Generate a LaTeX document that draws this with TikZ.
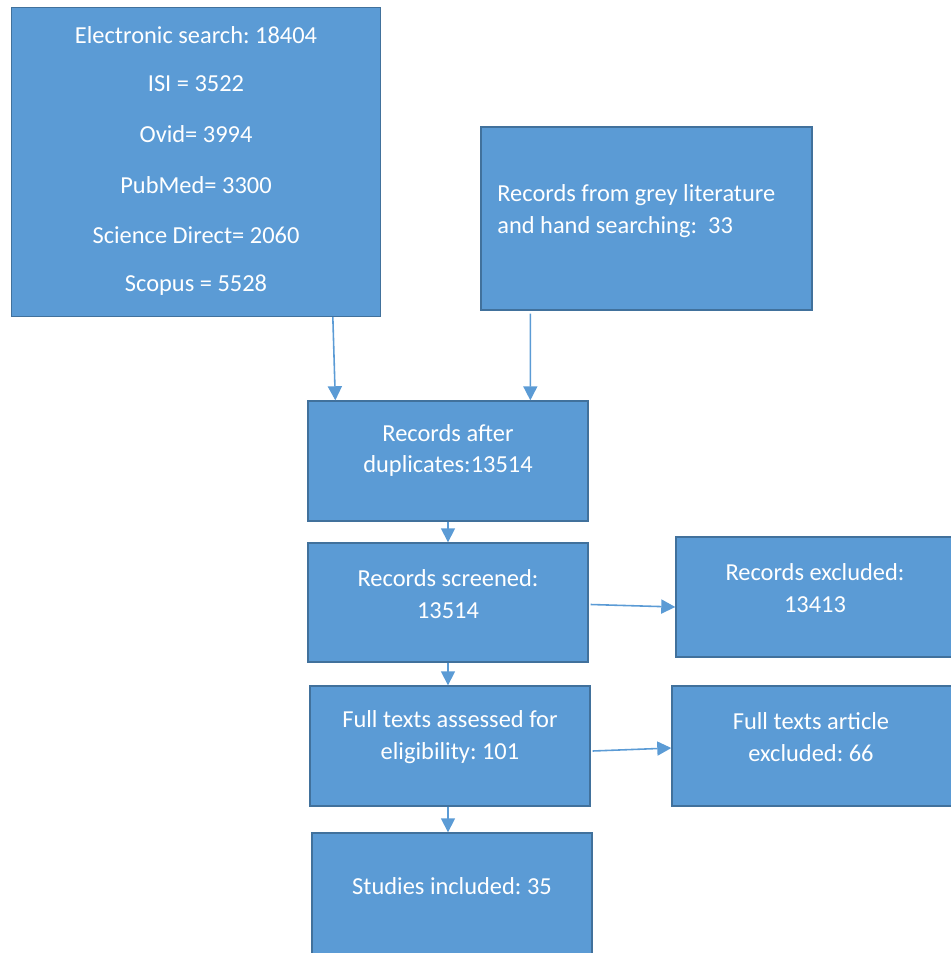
\documentclass[tikz,border=0pt]{standalone}
\usepackage{fontspec}
\setmainfont{Carlito}
\usepackage{tikz}
\usetikzlibrary{arrows.meta}
\usetikzlibrary{calc}
\definecolor{boxblue}{HTML}{5B9BD5}
\definecolor{boxedge}{HTML}{41719C}
\frenchspacing

\begin{document}
\begin{tikzpicture}[x=0.02cm,y=-0.02cm,
    box/.style={draw=boxedge,fill=boxblue,line width=0.8pt,rectangle,inner sep=0pt},
    txt/.style={text=white,align=center,font=\fontsize{13.9}{18}\selectfont,inner sep=0pt},
    link/.style={draw=boxblue,line width=0.9pt,-{Triangle[length=8pt,width=8pt]}}]
                    \useasboundingbox (0,0) rectangle (950,953);
                    \draw (196,162) node[box,minimum width=7.38cm,minimum height=6.18cm,name=esearch] {};
                    \draw (646.5,218.5) node[box,minimum width=6.62cm,minimum height=3.66cm,name=grey] {};
                    \draw (448,461) node[box,minimum width=5.6cm,minimum height=2.4cm,name=dup] {};
                    \draw (448,602.5) node[box,minimum width=5.6cm,minimum height=2.38cm,name=screen] {};
                    \draw (823,597) node[box,minimum width=5.88cm,minimum height=2.4cm,name=rexcl] {};
                    \draw (820,746) node[box,minimum width=5.92cm,minimum height=2.4cm,name=fexcl] {};
                    \draw (450,746) node[box,minimum width=5.6cm,minimum height=2.4cm,name=assess] {};
                    \draw (452,898) node[box,minimum width=5.6cm,minimum height=2.6cm,name=incl] {};
                    \draw (196,35) node[txt,name=esearch-1] {Electronic search: 18404};
                    \draw (196,84) node[txt,name=esearch-2] {ISI = 3522};
                    \draw (196,134) node[txt,name=esearch-3] {Ovid= 3994};
                    \draw (196,185) node[txt,name=esearch-4] {PubMed= 3300};
                    \draw (196,235) node[txt,name=esearch-5] {Science Direct= 2060};
                    \draw (196,285) node[txt,name=esearch-6] {Scopus = 5528};
                    \draw (497,211) node[txt,anchor=west,align=left,name=grey-t] {Records from grey literature\\and hand searching:~~33};
                    \draw (448,450.5) node[txt,name=dup-t] {Records after\\duplicates:13514};
                    \draw (448,594) node[txt,name=screen-t] {Records screened:\\13514};
                    \draw (815,588) node[txt,name=rexcl-t] {Records excluded:\\13413};
                    \draw (450,737) node[txt,name=assess-t] {Full texts assessed for\\eligibility: 101};
                    \draw (811,737) node[txt,name=fexcl-t] {Full texts article\\excluded: 66};
                    \draw (452,886) node[txt,name=incl-t] {Studies included: 35};
                    \coordinate (a) at ($ (esearch.south west) + (322,0) $);
                    \coordinate (b) at ($ (dup.north west) + (28,0) $);
                    \draw[link] (a) -- (b);
                    \draw[link] ($ (grey.south west) + (50,3) $) -- ($ (dup.north west) + (223,0) $);
                    \draw[link] (dup.south) -- (screen.north);
                    \draw[link] ($ (screen.east) + (2,2) $) -- ($ (rexcl.west) + (0,10) $);
                    \draw[link] (screen.south) -- ($ (assess.north) + (-2,0) $);
                    \draw[link] ($ (assess.east) + (2,5) $) -- ($ (fexcl.west) + (0,2) $);
                    \draw[link] ($ (assess.south) + (-2,0) $) -- ($ (incl.north) + (-4,0) $);
                \end{tikzpicture}
\end{document}
